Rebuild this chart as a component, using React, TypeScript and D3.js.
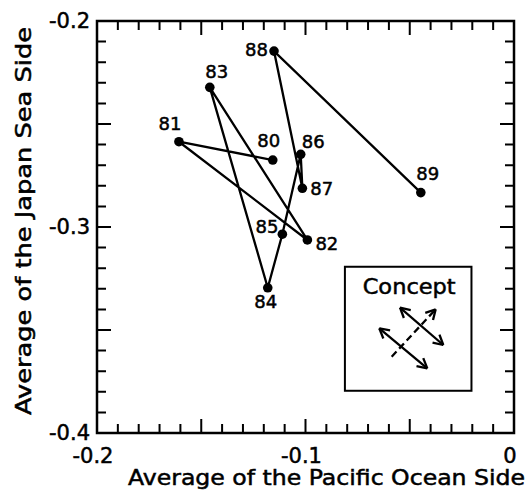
import React from "react";
import * as d3 from "d3";

// yearly averages (anomaly)
const years = ["80", "81", "82", "83", "84", "85", "86", "87", "88", "89"];
const pacificSide = [-0.1157, -0.1607, -0.0991, -0.1459, -0.1181, -0.1111, -0.1023, -0.1015, -0.1151, -0.0447];
const japanSeaSide = [-0.2675, -0.2586, -0.3063, -0.2322, -0.3295, -0.3035, -0.2647, -0.2812, -0.2146, -0.2833];

const xTickValues = [-0.2, -0.1, 0];
const xTickLabels = ["-0.2", "-0.1", "0"];
const yTickValues = [-0.2, -0.3, -0.4];
const yTickLabels = ["-0.2", "-0.3", "-0.4"];

// unlabelled ticks
const xMinor = [-0.19, -0.18, -0.17, -0.16, -0.14, -0.13, -0.12, -0.11, -0.09, -0.08, -0.07, -0.06, -0.04, -0.03, -0.02, -0.01];
const xMajor = [-0.15, -0.1, -0.05];
const yMinor = [-0.21, -0.22, -0.23, -0.24, -0.26, -0.27, -0.28, -0.29, -0.31, -0.32, -0.33, -0.34, -0.36, -0.37, -0.38, -0.39];
const yMajor = [-0.25, -0.3, -0.35];

// label placement around each point: [dx, dy, anchor]
const labelPlacement: [number, number, string][] = [
  [-4, -13, "middle"],
  [-9, -12, "middle"],
  [8, 10, "start"],
  [7, -9, "middle"],
  [-2, 20, "middle"],
  [-4, -1, "end"],
  [1, -6, "start"],
  [8, 7, "start"],
  [-6, 5, "end"],
  [7, -13, "middle"],
];

// the "Concept" inset, in data units
const conceptBox = { x0: -0.0811, x1: -0.0204, y0: -0.3193, y1: -0.3795 };

const left = 97,
  top = 21,
  right = 514,
  bottom = 433;
const font = "'DejaVu Sans', sans-serif";

const x = d3.scaleLinear().domain([-0.2, 0]).range([left, right]);
const y = d3.scaleLinear().domain([-0.2, -0.4]).range([top, bottom]);

const textStyle = (size: number) => ({
  fontFamily: font,
  fontSize: size,
  fill: "#000",
  stroke: "#000",
  strokeWidth: 0.5,
});

// all inward ticks as one path
function tickPath() {
  const p = d3.path();
  const sets: [number[], number][] = [
    [xMinor, 9],
    [xMajor, 14],
  ];
  sets.forEach(([vals, s]) =>
    vals.forEach((v) => {
      p.moveTo(x(v), bottom);
      p.lineTo(x(v), bottom - s);
      p.moveTo(x(v), top);
      p.lineTo(x(v), top + s);
    })
  );
  const ySets: [number[], number][] = [
    [yMinor, 9],
    [yMajor, 14],
  ];
  ySets.forEach(([vals, s]) =>
    vals.forEach((v) => {
      p.moveTo(left, y(v));
      p.lineTo(left + s, y(v));
      p.moveTo(right, y(v));
      p.lineTo(right - s, y(v));
    })
  );
  return p.toString();
}

function Arrow({ x1, y1, x2, y2, heads, dashed = false }: any) {
  const ends = [
    [x1, y1, x2, y2],
    [x2, y2, x1, y1],
  ];
  return (
    <g stroke="#000" strokeWidth={2.3}>
      <line x1={x1} y1={y1} x2={x2} y2={y2} strokeDasharray={dashed ? "7,4" : undefined} />
      {heads.map((h: number) => {
        const [tx, ty, fx, fy] = ends[h];
        const a = Math.atan2(ty - fy, tx - fx);
        return [-0.5, 0.5].map((da) => (
          <line key={`${h}${da}`} x1={tx} y1={ty} x2={tx - 11 * Math.cos(a + da)} y2={ty - 11 * Math.sin(a + da)} />
        ));
      })}
    </g>
  );
}

export default function App() {
  const pts = years.map((yr, i) => ({ yr, px: pacificSide[i], jp: japanSeaSide[i] }));
  const line = d3
    .line<(typeof pts)[0]>()
    .x((d) => x(d.px))
    .y((d) => y(d.jp));

  const bx = x(conceptBox.x0),
    by = y(conceptBox.y0);
  const bw = x(conceptBox.x1) - bx,
    bh = y(conceptBox.y1) - by;

  return (
    <div style={{ position: "absolute", left: 0, top: 0, background: "#fff" }}>
      <svg width={530} height={494}>
        <rect x={left} y={top} width={right - left} height={bottom - top} fill="none" stroke="#000" strokeWidth={2.5} />
        {/* inward ticks on all four sides */}
        <path d={tickPath()} fill="none" stroke="#000" strokeWidth={2} />

        {xTickValues.map((v, i) => (
          <text key={v} x={x(v) - 4} y={463} textAnchor="middle" style={textStyle(21)}>
            {xTickLabels[i]}
          </text>
        ))}
        {yTickValues.map((v, i) => (
          <text key={v} x={90} y={y(v) + 7} textAnchor="end" style={textStyle(21)}>
            {yTickLabels[i]}
          </text>
        ))}

        <text x={326.5} y={485} textAnchor="middle" textLength={397} lengthAdjust="spacingAndGlyphs" style={textStyle(21)}>
          Average of the Pacific Ocean Side
        </text>
        <text
          transform="translate(31,221) rotate(-90)"
          textAnchor="middle"
          textLength={388}
          lengthAdjust="spacingAndGlyphs"
          style={textStyle(21)}
        >
          Average of the Japan Sea Side
        </text>

        {/* trajectory */}
        <path d={line(pts) || ""} fill="none" stroke="#000" strokeWidth={2.3} />
        {pts.map((d) => (
          <circle key={d.yr} cx={x(d.px)} cy={y(d.jp)} r={4.8} fill="#000" />
        ))}
        {pts.map((d, i) => (
          <text
            key={d.yr}
            x={x(d.px) + labelPlacement[i][0]}
            y={y(d.jp) + labelPlacement[i][1]}
            textAnchor={labelPlacement[i][2] as any}
            style={textStyle(18)}
          >
            {d.yr}
          </text>
        ))}

        {/* concept inset */}
        <g transform={`translate(${bx},${by})`}>
          <rect width={bw} height={bh} fill="#fff" stroke="#000" strokeWidth={2} />
          <text x={bw / 2 + 1} y={27} textAnchor="middle" textLength={93} lengthAdjust="spacingAndGlyphs" style={textStyle(21)}>
            Concept
          </text>
          <Arrow x1={379.3 - bx} y1={328.3 - by} x2={427.3 - bx} y2={368.3 - by} heads={[0, 1]} />
          <Arrow x1={400 - bx} y1={307.7 - by} x2={443.3 - bx} y2={345 - by} heads={[0, 1]} />
          <Arrow x1={391.7 - bx} y1={356.7 - by} x2={435.7 - bx} y2={309.3 - by} heads={[1]} dashed />
        </g>
      </svg>
    </div>
  );
}
